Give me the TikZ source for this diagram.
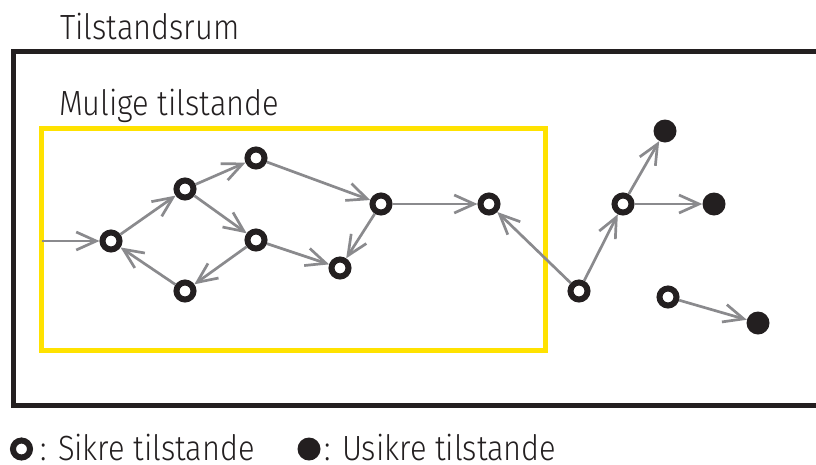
\documentclass[tikz,border=0pt]{standalone}
\usepackage{fontspec}
\setmainfont{Fira Sans Light}[FakeStretch=0.88]
\usetikzlibrary{arrows.meta,positioning}
\definecolor{randsort}{RGB}{35,31,32}
\definecolor{pilgraa}{RGB}{138,138,141}
\definecolor{mulgul}{RGB}{255,226,0}
\tikzset{sikker/.style={circle,draw=randsort,line width=6pt,fill=white,inner sep=0,minimum size=17pt},
    usikker/.style={circle,fill=randsort,inner sep=0,minimum size=23pt},
    overgang/.style={draw=pilgraa,line width=2.7pt,-{Straight Barb[length=20pt,width=18pt,line width=2.7pt]}},
    tekst/.style={font=\fontsize{35}{40}\selectfont,text=randsort,inner sep=0,anchor=base west}
}

\begin{document}
\begin{tikzpicture}[x=1pt,y=-1pt]

\useasboundingbox (0,0) rectangle (816,464);

% rammer
\draw [randsort,line width=5pt] (816,51) -- (13,51) -- (13,405) -- (816,405);
\draw [mulgul,line width=5pt] (41.5,128.5) rectangle (545.5,350.5);

\node (rum) at (60,39) [tekst] {Tilstandsrum};
\node (mulige) at (59,115) [tekst] {Mulige tilstande};

% tilstande
\coordinate (start) at (41.5,241);
\node (s1) at (111,241) [sikker] {};
\node (s2) at (185,189) [sikker] {};
\node (s3) at (256,158) [sikker] {};
\node (s4) at (256,240) [sikker] {};
\node (s5) at (185,291) [sikker] {};
\node (s6) at (340,268) [sikker] {};
\node (s7) at (381,204) [sikker] {};
\node (s8) at (489,204) [sikker] {};
\node (s9) at (579,291) [sikker] {};
\node (s10) at (623,204) [sikker] {};
\node (s11) at (668,297) [sikker] {};
\node (u1) at (665,131) [usikker] {};
\node (u2) at (714,204) [usikker] {};
\node (u3) at (758,323) [usikker] {};

\draw [overgang] (start) -- (s1);
\draw [overgang] (s1) -- (s2);
\draw [overgang] (s2) -- (s3);
\draw [overgang] (s2) -- (s4);
\draw [overgang] (s3) -- (s7);
\draw [overgang] (s4) -- (s6);
\draw [overgang] (s4) -- (s5);
\draw [overgang] (s5) -- (s1);
\draw [overgang] (s7) -- (s6);
\draw [overgang] (s7) -- (s8);
\draw [overgang] (s9) -- (s8);
\draw [overgang] (s9) -- (s10);
\draw [overgang] (s10) -- (u1);
\draw [overgang] (s10) -- (u2);
\draw [overgang] (s11) -- (u3);

% forklaring
\node (tegnS) at (21.5,449) [sikker] {};
\node (tekstS) at (40,460) [tekst] {: Sikre tilstande};
\node (tegnU) at (309,449) [usikker] {};
\node (tekstU) at (324,460) [tekst] {: Usikre tilstande};

\end{tikzpicture}
\end{document}
